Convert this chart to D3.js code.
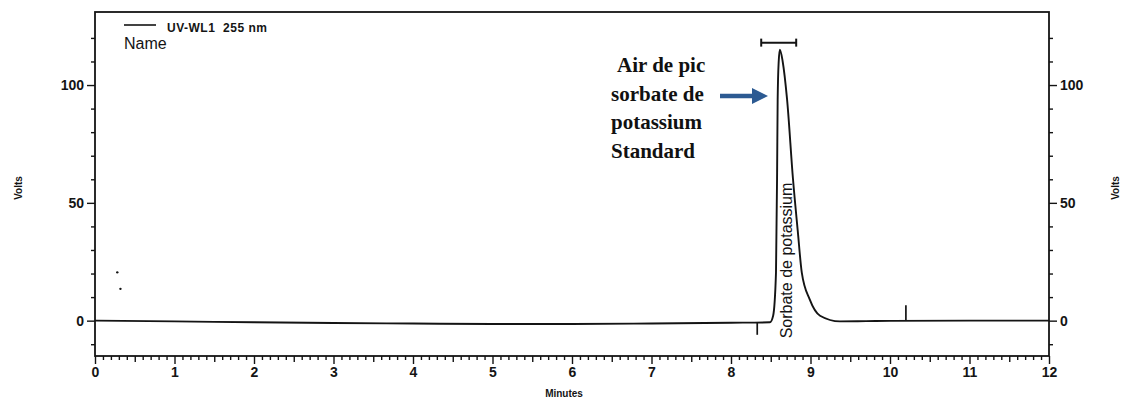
<!DOCTYPE html>
<html>
<head>
<meta charset="utf-8">
<script src="https://cdn.jsdelivr.net/npm/d3@7"></script>
<style>
  body { margin: 0; background: #fff; }
  svg { display: block; }
</style>
</head>
<body>
<svg id="chart" width="1123" height="403"></svg>
<script>
// Chromatogram values (minutes, volts)
var baseTimes  = [0, 1, 2, 3, 4, 5, 6, 7, 8, 8.49];
var baseVolts  = [0, -0.3, -0.7, -1.0, -1.2, -1.4, -1.4, -1.2, -0.9, -0.7];
var peakTimes  = [8.53, 8.566, 8.58, 8.587, 8.60, 8.615, 8.65, 8.705, 8.78, 8.84, 8.89, 8.99, 9.12, 9.37];
var peakVolts  = [2.1, 20.5, 63, 94, 110, 115, 110, 94, 60, 38, 20.5, 9, 2.1, -0.3];
var tailTimes  = [9.7, 10, 11, 12];
var tailVolts  = [-0.2, -0.1, 0, 0];

// Integration marks (start / end of peak)
var markTimes  = [8.33, 10.2];
var markFrom   = [-0.8, -0.1];
var markTo     = [-6, 6.5];

// Peak width bracket
var bracketFrom = 8.38;
var bracketTo   = 8.82;
var bracketLevel = 118;

// Two stray dots near the start
var dotTimes = [0.28, 0.32];
var dotVolts = [20.5, 13.5];

var xMajor = d3.range(0, 13, 1);
var yMajor = [0, 50, 100];
var yMinor = [-10, 10, 20, 30, 40, 60, 70, 80, 90, 110, 120];

var peakName = "Sorbate de potassium";
var noteLines = ["Air de pic", "sorbate de", "potassium", "Standard"];

var svg = d3.select("#chart");

//plot box (window.top is reserved, so keep names distinct)
var plotL = 95, plotR = 1049, plotT = 12, plotB = 356;

var x = d3.scaleLinear().domain([0, 12]).range([plotL, plotR]);
var y = d3.scaleLinear().domain([-15, 131]).range([plotB, plotT]);

//Build the trace from the three pieces
var trace = [];
baseTimes.forEach(function(t, i) { trace.push([t, baseVolts[i]]); });
peakTimes.forEach(function(t, i) { trace.push([t, peakVolts[i]]); });
tailTimes.forEach(function(t, i) { trace.push([t, tailVolts[i]]); });

var ink = "#141414";
var tickFont = "'Liberation Sans', Arial, sans-serif";

//Frame
svg.append("rect")
    .attr("x", plotL).attr("y", plotT)
    .attr("width", plotR - plotL).attr("height", plotB - plotT)
    .attr("fill", "none")
    .attr("stroke", ink)
    .attr("stroke-width", 1.8);

function styleAxis(g) {
    g.select(".domain").remove();
    g.selectAll("line").attr("stroke", ink).attr("stroke-width", 1.4);
    g.selectAll("text")
        .attr("fill", ink)
        .style("font-family", tickFont)
        .style("font-weight", "bold")
        .style("font-size", "14px");
}

//Bottom axis: minor every 0.1, medium at 0.5, major every minute
var minorX = d3.range(0, 121).map(function(d) { return d / 10; })
    .filter(function(d) { return Math.round(d * 10) % 5 !== 0; });
var halfX = d3.range(0, 12).map(function(d) { return d + 0.5; });

svg.append("g")
    .attr("transform", "translate(0," + plotB + ")")
    .call(d3.axisBottom(x).tickValues(minorX).tickSize(4).tickFormat(""))
    .call(styleAxis);
svg.append("g")
    .attr("transform", "translate(0," + plotB + ")")
    .call(d3.axisBottom(x).tickValues(halfX).tickSize(6).tickFormat(""))
    .call(styleAxis);
svg.append("g")
    .attr("transform", "translate(0," + plotB + ")")
    .call(d3.axisBottom(x).tickValues(xMajor).tickSize(8).tickPadding(3).tickFormat(d3.format("d")))
    .call(styleAxis);

//Left and right volt axes
svg.append("g")
    .attr("transform", "translate(" + plotL + ",0)")
    .call(d3.axisLeft(y).tickValues(yMinor).tickSize(4).tickFormat(""))
    .call(styleAxis);
svg.append("g")
    .attr("transform", "translate(" + plotL + ",0)")
    .call(d3.axisLeft(y).tickValues(yMajor).tickSize(8).tickPadding(3).tickFormat(d3.format("d")))
    .call(styleAxis);
svg.append("g")
    .attr("transform", "translate(" + plotR + ",0)")
    .call(d3.axisRight(y).tickValues(yMinor).tickSize(4).tickFormat(""))
    .call(styleAxis);
svg.append("g")
    .attr("transform", "translate(" + plotR + ",0)")
    .call(d3.axisRight(y).tickValues(yMajor).tickSize(8).tickPadding(3).tickFormat(d3.format("d")))
    .call(styleAxis);

//Axis titles
svg.append("text")
    .attr("transform", "translate(22,188) rotate(-90)")
    .attr("text-anchor", "middle")
    .style("font-family", tickFont).style("font-weight", "bold").style("font-size", "10px")
    .attr("fill", ink)
    .text("Volts");
svg.append("text")
    .attr("transform", "translate(1119,188) rotate(-90)")
    .attr("text-anchor", "middle")
    .style("font-family", tickFont).style("font-weight", "bold").style("font-size", "10px")
    .attr("fill", ink)
    .text("Volts");
svg.append("text")
    .attr("x", x(5.9)).attr("y", 397)
    .attr("text-anchor", "middle")
    .style("font-family", tickFont).style("font-weight", "bold").style("font-size", "10px")
    .attr("fill", ink)
    .text("Minutes");

//Trace
var line = d3.line()
    .x(function(d) { return x(d[0]); })
    .y(function(d) { return y(d[1]); })
    .curve(d3.curveMonotoneX);

svg.append("path")
    .datum(trace)
    .attr("d", line)
    .attr("fill", "none")
    .attr("stroke", ink)
    .attr("stroke-width", 1.9)
    .attr("stroke-linejoin", "round");

//Integration marks
svg.selectAll(".mark")
    .data(markTimes)
    .enter().append("line")
    .attr("class", "mark")
    .attr("x1", function(d) { return x(d); })
    .attr("x2", function(d) { return x(d); })
    .attr("y1", function(d, i) { return y(markFrom[i]); })
    .attr("y2", function(d, i) { return y(markTo[i]); })
    .attr("stroke", ink)
    .attr("stroke-width", 1.7);

//Stray dots
svg.selectAll(".dot")
    .data(dotTimes)
    .enter().append("circle")
    .attr("class", "dot")
    .attr("cx", function(d) { return x(d); })
    .attr("cy", function(d, i) { return y(dotVolts[i]); })
    .attr("r", 1.2)
    .attr("fill", ink);

//Bracket above the peak
var by = y(bracketLevel);
svg.append("line")
    .attr("x1", x(bracketFrom)).attr("x2", x(bracketTo))
    .attr("y1", by).attr("y2", by)
    .attr("stroke", ink).attr("stroke-width", 2);
[bracketFrom, bracketTo].forEach(function(t) {
    svg.append("line")
        .attr("x1", x(t)).attr("x2", x(t))
        .attr("y1", by - 4).attr("y2", by + 4)
        .attr("stroke", ink).attr("stroke-width", 2);
});

//Peak name, vertical, sitting inside the peak
svg.append("text")
    .attr("transform", "translate(" + (x(8.76) + 1) + "," + (y(-7.5)) + ") rotate(-90)")
    .attr("text-anchor", "start")
    .style("font-family", tickFont)
    .style("font-size", "16px")
    .attr("fill", ink)
    .text(peakName);

//Legend
svg.append("line")
    .attr("x1", 124).attr("x2", 156)
    .attr("y1", 25).attr("y2", 25)
    .attr("stroke", ink).attr("stroke-width", 1.6);
svg.append("text")
    .attr("x", 167).attr("y", 32)
    .style("font-family", tickFont).style("font-weight", "bold").style("font-size", "12px")
    .attr("fill", ink)
    .attr("xml:space", "preserve")
    .attr("textLength", 100)
    .text("UV-WL1  255 nm");
svg.append("text")
    .attr("x", 124).attr("y", 49)
    .style("font-family", tickFont).style("font-size", "16px")
    .attr("fill", ink)
    .text("Name");

//Annotation text and arrow
svg.selectAll(".note")
    .data(noteLines)
    .enter().append("text")
    .attr("class", "note")
    .attr("x", function(d, i) { return i === 0 ? 617 : 611; })
    .attr("y", function(d, i) { return 72 + i * 28.5; })
    .style("font-family", "'Liberation Serif', 'Times New Roman', serif")
    .style("font-weight", "bold")
    .style("font-size", "21px")
    .attr("fill", "#111")
    .text(function(d) { return d; });

var arrowY = 96;
svg.append("line")
    .attr("x1", 720).attr("x2", 755)
    .attr("y1", arrowY).attr("y2", arrowY)
    .attr("stroke", "#2c5a92").attr("stroke-width", 4.5);
svg.append("path")
    .attr("d", "M752," + (arrowY - 8) + "L768," + arrowY + "L752," + (arrowY + 8) + "Z")
    .attr("fill", "#2c5a92");
</script>
</body>
</html>
